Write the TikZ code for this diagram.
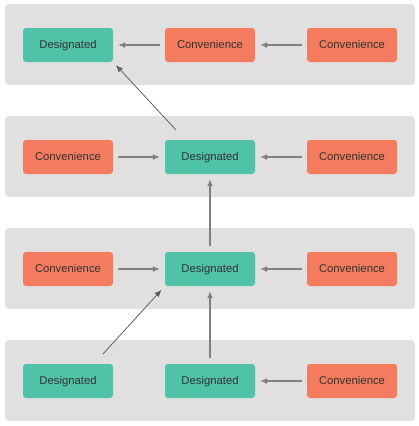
\documentclass[tikz,border=0pt]{standalone}
\usepackage{fontspec}
\setmainfont{Liberation Sans}
\usetikzlibrary{arrows.meta, positioning}
\definecolor{band}{HTML}{E0E0E0}
\definecolor{desig}{HTML}{50C2A7}
\definecolor{conv}{HTML}{F47C5E}
\definecolor{ink}{HTML}{333333}
\definecolor{wire}{HTML}{808080}

\begin{document}
\begin{tikzpicture}[x=1pt, y=-1pt,
    box/.style={rounded corners=3pt, minimum width=90pt, minimum height=34pt, inner sep=0pt, text height=8pt, text depth=2pt, text=ink, font=\fontsize{11.3}{13}\selectfont},
    dnode/.style={box, fill=desig},
    cnode/.style={box, fill=conv},
    arr/.style={draw=wire, line width=1.2pt, -{Latex[length=7pt, width=6pt]}, shorten >=5pt, shorten <=5pt},
    slant/.style={draw=wire!75!black, line width=0.8pt, -{Latex[length=7pt, width=6pt]}}]
    \useasboundingbox (0,0) rectangle (419,426);
    \foreach \y in {4, 116, 228, 340} {
      \fill[band, rounded corners=4pt] (5,\y) rectangle (415,\y+81);
    }
    \node[dnode] (d1) at (68,45) {Designated};
    \node[cnode] (c1m) at (210,45) {Convenience};
    \node[cnode] (c1r) at (352,45) {Convenience};
    \node[cnode] (c2l) at (68,157) {Convenience};
    \node[dnode] (d2) at (210,157) {Designated};
    \node[cnode] (c2r) at (352,157) {Convenience};
    \node[cnode] (c3l) at (68,269) {Convenience};
    \node[dnode] (d3) at (210,269) {Designated};
    \node[cnode] (c3r) at (352,269) {Convenience};
    \node[dnode] (d4l) at (68,381) {Designated};
    \node[dnode] (d4) at (210,381) {Designated};
    \node[cnode] (c4r) at (352,381) {Convenience};
    \coordinate (s1) at (176,130);
    \coordinate (s4) at (103,354);
    \draw[arr] (c1r) -- (c1m);
    \draw[arr] (c1m) -- (d1);
    \draw[arr] (c2l) -- (d2);
    \draw[arr] (c2r) -- (d2);
    \draw[arr] (c3l) -- (d3);
    \draw[arr] (c3r) -- (d3);
    \draw[arr] (c4r) -- (d4);
    \draw[arr, shorten <=6pt] (d3) -- (d2);
    \draw[arr, shorten <=6pt] (d4) -- (d3);
    \draw[slant, shorten >=4pt] (s1) -- (d1.south east);
    \draw[slant, shorten >=5pt] (s4) -- (d3.south west);
\end{tikzpicture}
\end{document}
